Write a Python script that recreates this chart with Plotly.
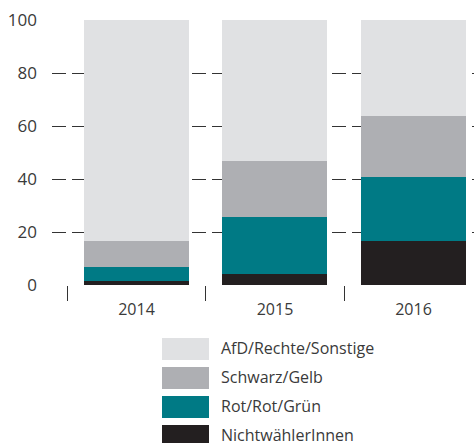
import plotly.graph_objects as go

years = ["2014", "2015", "2016"]
nichtwaehler = [1.5, 4.0, 16.6]
rot_rot_gruen = [5.4, 21.7, 24.2]
schwarz_gelb = [9.8, 21.1, 23.0]
afd_rechte_sonstige = [83.3, 53.2, 36.2]

series = [
    ("NichtwählerInnen", nichtwaehler, "#231F20"),
    ("Rot/Rot/Grün", rot_rot_gruen, "#007A85"),
    ("Schwarz/Gelb", schwarz_gelb, "#AEAFB3"),
    ("AfD/Rechte/Sonstige", afd_rechte_sonstige, "#E0E1E3"),
]

FONT = "Open Sans"
TXT = "#3a3a3a"

fig = go.Figure()
for name, vals, col in series:
    fig.add_trace(go.Bar(x=years, y=vals, name=name, marker_color=col,
                         marker_line_width=0, width=0.758, showlegend=False))

W, H = 474, 443
ml, mr, mt, mb = 52, 0, 20, 158
pw, ph = W - ml - mr, H - mt - mb

fig.update_layout(
    width=W, height=H,
    margin=dict(l=ml, r=mr, t=mt, b=mb),
    barmode="stack",
    plot_bgcolor="white", paper_bgcolor="white",
    font=dict(family=FONT, color=TXT),
    xaxis=dict(type="category", range=[-0.61, 2.437], tickson="boundaries",
               ticks="outside", ticklen=15, tickcolor="#333", tickwidth=1.2,
               showgrid=False, zeroline=False, showline=False,
               ticklabelstandoff=13,
               tickfont=dict(size=16, color=TXT)),
    yaxis=dict(range=[0, 100], tickvals=[0, 20, 40, 60, 80, 100],
               showgrid=True, gridcolor="#333", gridwidth=1.3, griddash="14px,6px",
               zeroline=False, showline=False, ticks="",
               ticklabelstandoff=14,
               tickfont=dict(size=17, color=TXT)),
)

# custom legend (swatches + labels) in pixel-derived paper coords
def px_x(x):
    return (x - ml) / pw

def px_y(y):
    return (H - mb - y) / ph

legend_order = list(reversed(series))
for i, (name, vals, col) in enumerate(legend_order):
    top = 338 + i * 29
    fig.add_shape(type="rect", xref="paper", yref="paper",
                  x0=px_x(162), x1=px_x(209), y0=px_y(top + 22), y1=px_y(top),
                  fillcolor=col, line_width=0)
    fig.add_annotation(xref="paper", yref="paper", x=px_x(219), y=px_y(top + 10),
                       text=name, showarrow=False, xanchor="left", yanchor="middle",
                       font=dict(size=16, color=TXT, family=FONT))

fig.write_html("out.html", config={"displayModeBar": False},
               post_script="document.body.style.margin='0';document.body.style.overflow='hidden';")
